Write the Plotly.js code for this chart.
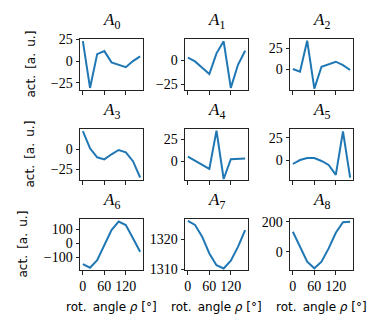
<!DOCTYPE html>
<html>
<head>
<meta charset="utf-8">
<script src="https://cdn.plot.ly/plotly-3.0.1.min.js"></script>
<style>
  html, body { margin: 0; padding: 0; background: #fff; }
  #chart { width: 374px; height: 332px; }
</style>
</head>
<body>
<div id="chart"></div>
<script>
// rotation angles (deg)
var angles = [0, 20, 40, 60, 80, 100, 120, 140, 160];

// activations
var a0 = [23, -31, 8, 11.5, -1.5, -4, -7, 0, 5.5];
var a1 = [2.4, -1.5, -8, -14.6, 7, 19.5, -29, -5, 9.7];
var a2 = [0.4, -2.8, 34, -23, 3, 6, 9, 5, -0.8];
var a3 = [22, 0.8, -10.2, -12.7, -6.5, -1.2, -4, -15, -35];
var a4 = [5.6, 0.8, -3.7, -8.2, 34.4, -19.4, 2.6, 2.6, 3.4];
var a5 = [-4.5, 0, 2.2, 2.2, -1.1, -5.6, -16.8, 32.5, -20];
var a6 = [-148, -174, -120, -12, 95, 155, 130, 36, -60];
var a7 = [1326.2, 1324.8, 1320.9, 1315.3, 1311.4, 1310.3, 1312.9, 1317.5, 1323.1];
var a8 = [133, 33, -67, -111, -67, 22, 126, 196, 200];

var series = [a0, a1, a2, a3, a4, a5, a6, a7, a8];
var names = ["0", "1", "2", "3", "4", "5", "6", "7", "8"];
var xTicks = [0, 60, 120];
var dticks = [25, 25, 25, 25, 25, 25, 100, 10, 200];
var yRanges = [
  [-33.4, 25.5], [-31.25, 21.9], [-24.6, 36],
  [-38.1, 24.6], [-20.5, 36.2], [-22.6, 35.1],
  [-190.7, 173.6], [1309.8, 1326.8], [-122, 218]
];

const W = 374, H = 332;
var colLeft = [80, 185, 290];
var boxW = 63;
var rowTop = [39, 129, 219];
var boxH = 51;
var px = function (x) { return x / W; };
var py = function (y) { return 1 - y / H; };

var serif = "Liberation Serif, serif";
var sans = "DejaVu Sans, sans-serif";
var axCol = "#222";

var data = [];
var layout = {
  width: W,
  height: H,
  margin: { l: 0, r: 0, t: 0, b: 0 },
  paper_bgcolor: "#fff",
  plot_bgcolor: "#fff",
  showlegend: false,
  annotations: []
};

for (var i = 0; i < 9; i++) {
  var r = Math.floor(i / 3), c = i % 3;
  var k = i === 0 ? "" : String(i + 1);
  data.push({
    x: angles,
    y: series[i],
    xaxis: "x" + k,
    yaxis: "y" + k,
    type: "scatter",
    mode: "lines",
    line: { color: "#1f77b4", width: 2 },
    hoverinfo: "skip"
  });
  layout["xaxis" + k] = {
    domain: [px(colLeft[c]), px(colLeft[c] + boxW)],
    anchor: "y" + k,
    range: [-8, 168],
    tickvals: xTicks,
    ticks: "outside",
    ticklen: 3.5,
    tickwidth: 1,
    tickcolor: axCol,
    showticklabels: r === 2,
    tickfont: { family: serif, size: 14, color: "#000" },
    showline: true,
    mirror: true,
    linecolor: axCol,
    linewidth: 1,
    showgrid: false,
    zeroline: false,
    fixedrange: true
  };
  layout["yaxis" + k] = {
    domain: [py(rowTop[r] + boxH), py(rowTop[r])],
    anchor: "x" + k,
    range: yRanges[i],
    tick0: 0,
    dtick: dticks[i],
    ticks: "outside",
    ticklen: 3.5,
    tickwidth: 1,
    tickcolor: axCol,
    tickfont: { family: serif, size: 14, color: "#000" },
    showline: true,
    mirror: true,
    linecolor: axCol,
    linewidth: 1,
    showgrid: false,
    zeroline: false,
    fixedrange: true
  };
  // panel title
  layout.annotations.push({
    text: "<i>A</i><sub>" + names[i] + "</sub>",
    xref: "paper", yref: "paper",
    x: px(colLeft[c] + boxW / 2), y: py(rowTop[r] - 5),
    xanchor: "center", yanchor: "bottom",
    showarrow: false,
    font: { family: serif, size: 17, color: "#000" }
  });
  if (r === 2) {
    layout.annotations.push({
      text: "rot.\u2009 angle <i>ρ</i> [°]",
      xref: "paper", yref: "paper",
      x: px(colLeft[c] + boxW / 2), y: py(307),
      xanchor: "center", yanchor: "middle",
      showarrow: false,
      font: { family: sans, size: 12, color: "#000" }
    });
  }
}

var yLabX = [31, 29, 22];
for (var r2 = 0; r2 < 3; r2++) {
  layout.annotations.push({
    text: "act.\u2009 [a.\u2009 u.]",
    xref: "paper", yref: "paper",
    x: px(yLabX[r2]), y: py(rowTop[r2] + boxH / 2),
    xanchor: "center", yanchor: "middle",
    textangle: -90,
    showarrow: false,
    font: { family: sans, size: 12, color: "#000" }
  });
}

Plotly.newPlot("chart", data, layout, { displayModeBar: false, staticPlot: true });
</script>
</body>
</html>
